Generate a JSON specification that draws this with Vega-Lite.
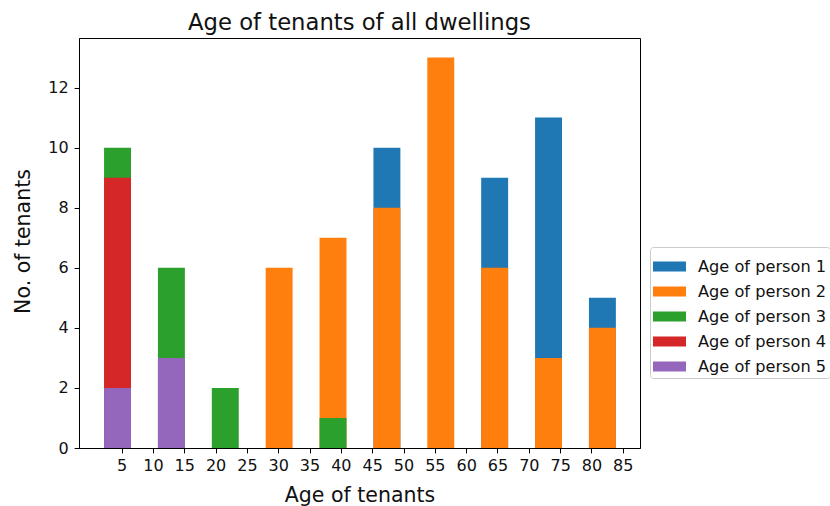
{
  "$schema": "https://vega.github.io/schema/vega-lite/v6.json",
  "width": 561,
  "height": 410,
  "autosize": {"type": "none"},
  "padding": {"left": 79, "top": 38, "right": 190, "bottom": 58},
  "background": "white",
  "title": {"text": "Age of tenants of all dwellings", "fontSize": 22.7, "font": "DejaVu Sans", "fontWeight": "normal", "anchor": "middle", "frame": "group", "offset": 7, "baseline": "bottom", "dy": 27, "color": "#111"},
  "data": {"values": [
    {"series": "Age of person 1", "bin_start": 45.2, "bin_end": 49.5, "count": 10},
    {"series": "Age of person 1", "bin_start": 62.4, "bin_end": 66.7, "count": 9},
    {"series": "Age of person 1", "bin_start": 71.0, "bin_end": 75.3, "count": 11},
    {"series": "Age of person 1", "bin_start": 79.6, "bin_end": 83.9, "count": 5},
    {"series": "Age of person 2", "bin_start": 28.0, "bin_end": 32.3, "count": 6},
    {"series": "Age of person 2", "bin_start": 36.6, "bin_end": 40.9, "count": 7},
    {"series": "Age of person 2", "bin_start": 45.2, "bin_end": 49.5, "count": 8},
    {"series": "Age of person 2", "bin_start": 53.8, "bin_end": 58.1, "count": 13},
    {"series": "Age of person 2", "bin_start": 62.4, "bin_end": 66.7, "count": 6},
    {"series": "Age of person 2", "bin_start": 71.0, "bin_end": 75.3, "count": 3},
    {"series": "Age of person 2", "bin_start": 79.6, "bin_end": 83.9, "count": 4},
    {"series": "Age of person 3", "bin_start": 2.2, "bin_end": 6.5, "count": 10},
    {"series": "Age of person 3", "bin_start": 10.8, "bin_end": 15.1, "count": 6},
    {"series": "Age of person 3", "bin_start": 19.4, "bin_end": 23.7, "count": 2},
    {"series": "Age of person 3", "bin_start": 36.6, "bin_end": 40.9, "count": 1},
    {"series": "Age of person 4", "bin_start": 2.2, "bin_end": 6.5, "count": 9},
    {"series": "Age of person 5", "bin_start": 2.2, "bin_end": 6.5, "count": 2},
    {"series": "Age of person 5", "bin_start": 10.8, "bin_end": 15.1, "count": 3}
  ]},
  "mark": {"type": "bar", "opacity": 1},
  "encoding": {
    "x": {"field": "bin_start", "type": "quantitative", "scale": {"domain": [-1.8, 87.75], "nice": false, "zero": false},
      "axis": {"values": [5,10,15,20,25,30,35,40,45,50,55,60,65,70,75,80,85], "title": "Age of tenants", "titleX": 280.5, "titleY": 47, "titleBaseline": "middle", "labelPadding": 5}},
    "x2": {"field": "bin_end"},
    "y": {"field": "count", "type": "quantitative", "stack": null, "scale": {"domain": [0, 13.65], "nice": false},
      "axis": {"values": [0,2,4,6,8,10,12], "title": "No. of tenants", "titleX": -55.5, "titleY": 203, "titleBaseline": "middle", "labelPadding": 6}},
    "y2": {"datum": 0},
    "color": {"field": "series", "type": "nominal",
      "scale": {"domain": ["Age of person 1","Age of person 2","Age of person 3","Age of person 4","Age of person 5"], "range": ["#1f77b4","#ff7f0e","#2ca02c","#d62728","#9467bd"]},
      "legend": {"orient": "none", "legendX": 571, "legendY": 209, "title": null, "labelFont": "DejaVu Sans", "labelFontSize": 16.2, "labelColor": "#111",
        "symbolType": "M-1,-0.303H1V0.303H-1Z", "symbolSize": 1089, "symbolStrokeWidth": 0, "symbolOpacity": 1,
        "strokeColor": "#cccccc", "fillColor": "white", "cornerRadius": 3, "padding": 3, "labelOffset": 12, "rowPadding": -0.4}}
  },
  "config": {
    "view": {"stroke": "#000", "strokeWidth": 1},
    "axis": {"grid": false, "domainColor": "#000", "tickColor": "#000", "tickSize": 4.9, "labelFont": "DejaVu Sans", "labelFontSize": 16, "labelColor": "#111",
      "titleFont": "DejaVu Sans", "titleFontSize": 20.5, "titleFontWeight": "normal", "titleColor": "#111"}
  }
}
